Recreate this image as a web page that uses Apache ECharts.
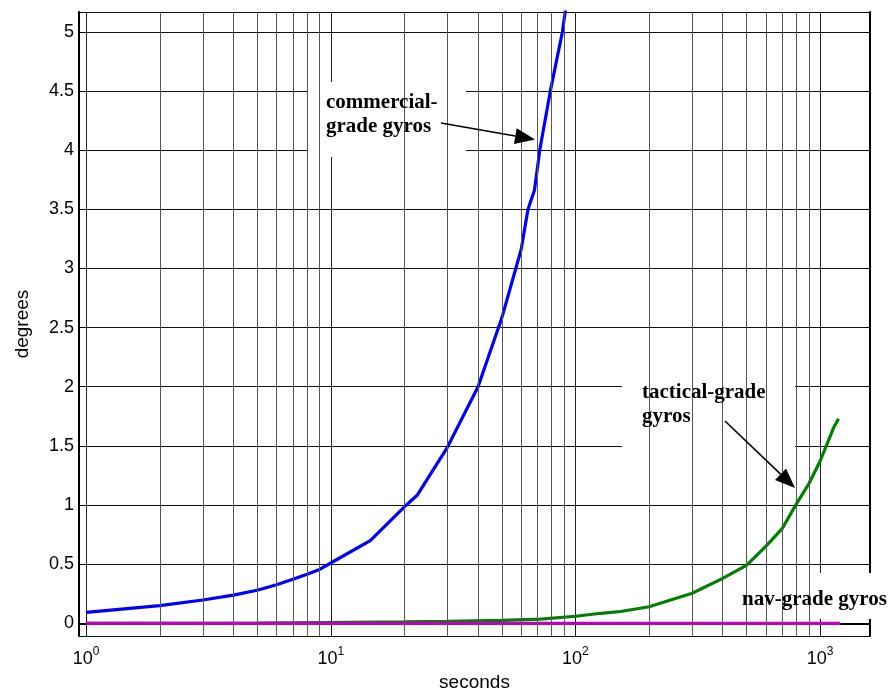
<!DOCTYPE html>
<html>
<head>
<meta charset="utf-8">
<title>gyro drift</title>
<script src="https://cdn.jsdelivr.net/npm/echarts@6.0.0/dist/echarts.min.js"></script>
<style>
  html, body { margin: 0; padding: 0; background: #fff; }
  #chart { width: 888px; height: 693px; }
</style>
</head>
<body>
<div id="chart"></div>
<script>
// commercial-grade gyros (blue)
const commercialT = [1, 2, 3, 4, 5, 6, 7, 8, 9, 10, 14.5, 20, 22.6, 30, 40, 50, 60, 64, 68, 71.5, 79, 88.5, 92];
const commercialDeg = [0.093, 0.149, 0.197, 0.239, 0.28, 0.326, 0.372, 0.414, 0.456, 0.51, 0.70, 0.985, 1.085, 1.49, 2.0, 2.58, 3.16, 3.5, 3.66, 4.0, 4.5, 5.0, 5.25];
// tactical-grade gyros (green)
const tacticalT = [1, 5, 12, 20, 30, 50, 72, 100, 127, 153, 200, 300, 400, 500, 600, 700, 800, 900, 1000, 1140, 1190];
const tacticalDeg = [0, 0.002, 0.009, 0.012, 0.016, 0.025, 0.036, 0.06, 0.085, 0.1, 0.14, 0.254, 0.38, 0.49, 0.65, 0.8, 1.01, 1.18, 1.37, 1.66, 1.73];
// nav-grade gyros (magenta)
const navT = [1, 10, 100, 1000, 1208];
const navDeg = [0, 0, 0, 0, 0];
// minor log grid lines
const minorGridT = [2, 3, 4, 5, 6, 7, 8, 9, 20, 30, 40, 50, 60, 70, 80, 90, 200, 300, 400, 500, 600, 700, 800, 900];

const X_MIN = 0.935, X_MAX = 1600;
const Y_MIN = -0.107, Y_MAX = 5.167;
const FONT = '"Liberation Sans", Arial, sans-serif';
const SERIF = 'bold 21px "Liberation Serif", "Times New Roman", serif';

const pairs = (xs, ys) => xs.map((x, i) => [x, ys[i]]);

// 注释箭头
function arrow(x1, y1, x2, y2) {
  const dx = x2 - x1, dy = y2 - y1;
  const len = Math.sqrt(dx * dx + dy * dy);
  const ux = dx / len, uy = dy / len;
  const bx = x2 - ux * 20, by = y2 - uy * 20;
  const px = -uy * 8, py = ux * 8;
  return [
    { type: 'line', z: 60, shape: { x1: x1, y1: y1, x2: bx, y2: by }, style: { stroke: '#000', lineWidth: 1.6 } },
    { type: 'polygon', z: 60, shape: { points: [[x2, y2], [bx + px, by + py], [bx - px, by - py]] }, style: { fill: '#000' } }
  ];
}

const chart = echarts.init(document.getElementById('chart'), null, { renderer: 'canvas' });

const option = {
  animation: false,
  backgroundColor: '#fff',
  grid: { left: 79, right: 18, top: 12, bottom: 57, containLabel: false, outerBoundsMode: 'none' },
  xAxis: [
    {
      type: 'log',
      logBase: 10,
      min: X_MIN,
      max: X_MAX,
      name: 'seconds',
      nameLocation: 'middle',
      nameGap: 35,
      nameTextStyle: { fontSize: 19, fontFamily: FONT, color: '#000' },
      axisLine: { show: true, lineStyle: { color: '#000', width: 2 } },
      axisTick: { show: true, inside: true, length: 6, lineStyle: { color: '#000' } },
      axisLabel: {
        showMinLabel: false,
        showMaxLabel: false,
        margin: 10,
        formatter: v => {
          const e = Math.round(Math.log(v) / Math.LN10);
          return '{b|10}{s|' + e + '}';
        },
        rich: {
          b: { fontSize: 18, fontFamily: FONT, color: '#000', lineHeight: 22, verticalAlign: 'bottom' },
          s: { fontSize: 12, fontFamily: FONT, color: '#000', lineHeight: 22, verticalAlign: 'top' }
        }
      },
      splitLine: { show: true, lineStyle: { color: '#222', width: 1 } }
    },
    {
      type: 'log',
      logBase: 10,
      min: X_MIN,
      max: X_MAX,
      position: 'top',
      axisLine: { show: true, lineStyle: { color: '#000', width: 2 } },
      axisTick: { show: true, inside: true, length: 6, lineStyle: { color: '#000' } },
      axisLabel: { show: false },
      splitLine: { show: false }
    }
  ],
  yAxis: [
    {
      type: 'value',
      min: Y_MIN,
      max: Y_MAX,
      splitNumber: 10,
      minInterval: 0.5,
      maxInterval: 0.5,
      name: 'degrees',
      nameLocation: 'middle',
      nameGap: 47,
      nameTextStyle: { fontSize: 19, fontFamily: FONT, color: '#000' },
      axisLine: { show: true, lineStyle: { color: '#000', width: 2 } },
      axisTick: { show: true, inside: true, length: 6, lineStyle: { color: '#000' } },
      axisLabel: { showMinLabel: false, showMaxLabel: false, margin: 5, fontSize: 18, fontFamily: FONT, color: '#000' },
      splitLine: { show: true, lineStyle: { color: '#111', width: 1 } }
    },
    {
      type: 'value',
      min: Y_MIN,
      max: Y_MAX,
      splitNumber: 10,
      minInterval: 0.5,
      maxInterval: 0.5,
      position: 'right',
      axisLine: { show: true, lineStyle: { color: '#000', width: 2 } },
      axisTick: { show: true, inside: true, length: 6, lineStyle: { color: '#000' } },
      axisLabel: { show: false },
      splitLine: { show: false }
    }
  ],
  series: [
    {
      // 次网格线
      name: 'minor-grid',
      type: 'line',
      z: 1,
      silent: true,
      showSymbol: false,
      data: pairs(navT, navDeg),
      lineStyle: { opacity: 0 },
      markLine: {
        silent: true,
        symbol: ['none', 'none'],
        label: { show: false },
        lineStyle: { color: '#555', width: 1, type: 'solid' },
        data: minorGridT.map(v => ({ xAxis: v }))
      }
    },
    {
      name: 'commercial',
      type: 'line',
      z: 3,
      showSymbol: false,
      data: pairs(commercialT, commercialDeg),
      lineStyle: { color: '#0000ff', width: 3.2 }
    },
    {
      name: 'tactical',
      type: 'line',
      z: 3,
      showSymbol: false,
      data: pairs(tacticalT, tacticalDeg),
      lineStyle: { color: '#008000', width: 3.2 }
    },
    {
      name: 'nav',
      type: 'line',
      z: 4,
      showSymbol: false,
      data: pairs(navT, navDeg),
      lineStyle: { color: '#bf00bf', width: 3.2 }
    }
  ],
  graphic: [
    { type: 'rect', z: 2, shape: { x: 307, y: 82, width: 159, height: 75 }, style: { fill: '#fff' } },
    { type: 'text', z: 51, x: 326, y: 91, style: { text: 'commercial-\ngrade gyros', font: SERIF, fill: '#000', lineHeight: 24 } },
    { type: 'rect', z: 2, shape: { x: 622, y: 369, width: 173, height: 78 }, style: { fill: '#fff' } },
    { type: 'text', z: 51, x: 642, y: 381, style: { text: 'tactical-grade\ngyros', font: SERIF, fill: '#000', lineHeight: 24 } },
    { type: 'rect', z: 2, shape: { x: 719, y: 573, width: 169, height: 46 }, style: { fill: '#fff' } },
    { type: 'text', z: 51, x: 742, y: 588, style: { text: 'nav-grade gyros', font: SERIF, fill: '#000', lineHeight: 24 } }
  ].concat(arrow(441, 123, 535, 139.5), arrow(725, 421, 795, 488))
};

chart.setOption(option);
</script>
</body>
</html>
